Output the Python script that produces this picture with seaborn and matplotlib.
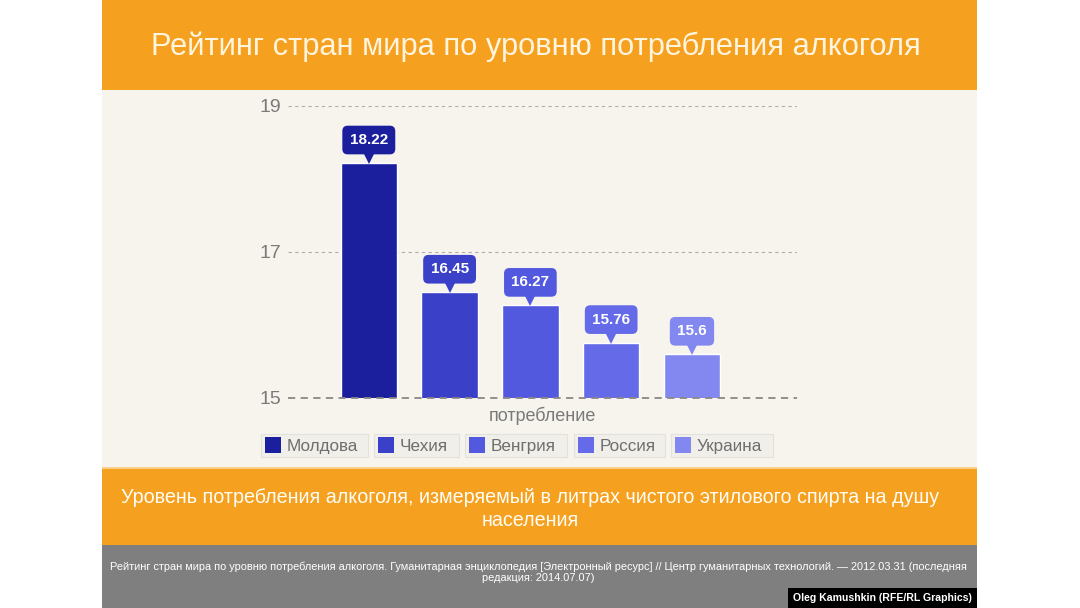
import numpy as np
import pandas as pd
import matplotlib
matplotlib.use('Agg')
import matplotlib.pyplot as plt
import matplotlib.transforms as mtransforms
from matplotlib.patches import Rectangle
import seaborn as sns

# --- Data ---
countries = ['Молдова', 'Чехия', 'Венгрия', 'Россия', 'Украина']
consumption = [18.22, 16.45, 16.27, 15.76, 15.6]
bar_colors = ['#1B1F9E', '#3A40C8', '#5259DF', '#656AE8', '#8388F0']
y_ticks = [15, 17, 19]

title = 'Рейтинг стран мира по уровню потребления алкоголя'
subtitle = ('Уровень потребления алкоголя, измеряемый в литрах чистого этилового спирта на душу\n'
            'населения')
source = ('Рейтинг стран мира по уровню потребления алкоголя. Гуманитарная энциклопедия [Электронный ресурс] '
          '// Центр гуманитарных технологий. — 2012.03.31 (последняя\nредакция: 2014.07.07)')
credit = 'Oleg Kamushkin (RFE/RL Graphics)'

ORANGE = '#F6A01F'
BEIGE = '#F7F4EE'
GRAY_TXT = '#7A7A7A'

W, H = 1080, 608

def fx(x):
    return x / W

def fy(y):
    return 1 - y / H

sns.set_theme(style='white')
plt.rcParams['font.family'] = ['Liberation Sans', 'DejaVu Sans']

fig = plt.figure(figsize=(10.8, 6.08), dpi=100)
fig.patch.set_facecolor('white')

def band(x0, y0, x1, y1, color, z=-10):
    fig.patches.append(Rectangle((fx(x0), fy(y1)), fx(x1) - fx(x0), fy(y0) - fy(y1),
                                 transform=fig.transFigure, facecolor=color,
                                 edgecolor='none', zorder=z))

# background panels
band(102, 0, 977, 90, ORANGE)
band(102, 90, 977, 468, BEIGE)
band(102, 468, 977, 545, ORANGE)
band(102, 467, 977, 469, '#F9CF8A')
band(102, 545, 977, 608, '#7F7F7F')

fig.text(fx(536), fy(47), title, ha='center', va='center', fontsize=22.2,
         color='#FFF4DE')
fig.text(fx(530), fy(509), subtitle, ha='center', va='center', fontsize=14.2,
         color='#FFFDF6', linespacing=1.25)
fig.text(fx(538), fy(572), source, ha='center', va='center', fontsize=7.9,
         color='white', linespacing=1.1)
fig.text(fx(972), fy(598), credit, ha='right', va='center', fontsize=7.6,
         color='white', fontweight='bold',
         bbox=dict(boxstyle='square,pad=0.45', fc='black', ec='none'))

# --- Main chart ---
ax = fig.add_axes([fx(288), fy(398), fx(797) - fx(288), fy(106) - fy(398)])
ax.set_zorder(5)
ax.set_facecolor('none')

df = pd.DataFrame({'country': countries, 'value': consumption})
sns.barplot(data=df, x='country', y='value', hue='country', palette=bar_colors,
            width=0.7, saturation=1, legend=False, ax=ax, zorder=3)

ax.set_ylim(15, 19)
ax.set_xlim(-1.0, 5.3)
ax.set_yticks(y_ticks)
ax.set_yticklabels([str(t) for t in y_ticks], fontsize=14, color=GRAY_TXT)
ax.tick_params(axis='y', length=0, pad=5)
ax.set_xticks([])
ax.set_ylabel('')
ax.set_xlabel('потребление', fontsize=13, color=GRAY_TXT, labelpad=6)
for s in ax.spines.values():
    s.set_visible(False)

for t in y_ticks[1:]:
    ax.axhline(t, color='#B0ADA7', lw=0.8, ls=(0, (3, 3)), zorder=1)
ax.axhline(15, color='#8A8884', lw=1.3, ls=(0, (4, 3)), zorder=4, clip_on=False)

# value callouts
tip = mtransforms.offset_copy(ax.transData, fig=fig, x=0, y=5, units='dots')
for i, (v, c) in enumerate(zip(consumption, bar_colors)):
    ax.annotate(f'{v:g}', xy=(i, v), xytext=(0, 16.5), textcoords='offset points',
                ha='center', va='center', fontsize=11, fontweight='bold',
                color='white', annotation_clip=False, zorder=6,
                bbox=dict(boxstyle='round,pad=0.48,rounding_size=0.35', fc=c, ec='none'))
    ax.plot([i], [v], marker='v', markersize=8, color=c, transform=tip,
            clip_on=False, zorder=5, markeredgewidth=0)

# legend with boxed items
item_left = [261, 374, 465, 574, 671]
item_right = [368, 459, 567, 665, 773]
for lbl, c, x0, x1 in zip(countries, bar_colors, item_left, item_right):
    band(x0, 434, x1, 457, '#F1EFEA', z=1)
    fig.patches.append(Rectangle((fx(x0), fy(457)), fx(x1) - fx(x0), fy(434) - fy(457),
                                 transform=fig.transFigure, facecolor='none',
                                 edgecolor='#E3E1DB', lw=0.8, zorder=2))
    band(x0 + 4, 437, x0 + 20, 453, c, z=3)
    fig.text(fx(x0 + 26), fy(451), lbl, ha='left', va='baseline', fontsize=12.3,
             color='#6E6E6E')

fig.savefig('out.png', dpi=100, facecolor=fig.get_facecolor())
